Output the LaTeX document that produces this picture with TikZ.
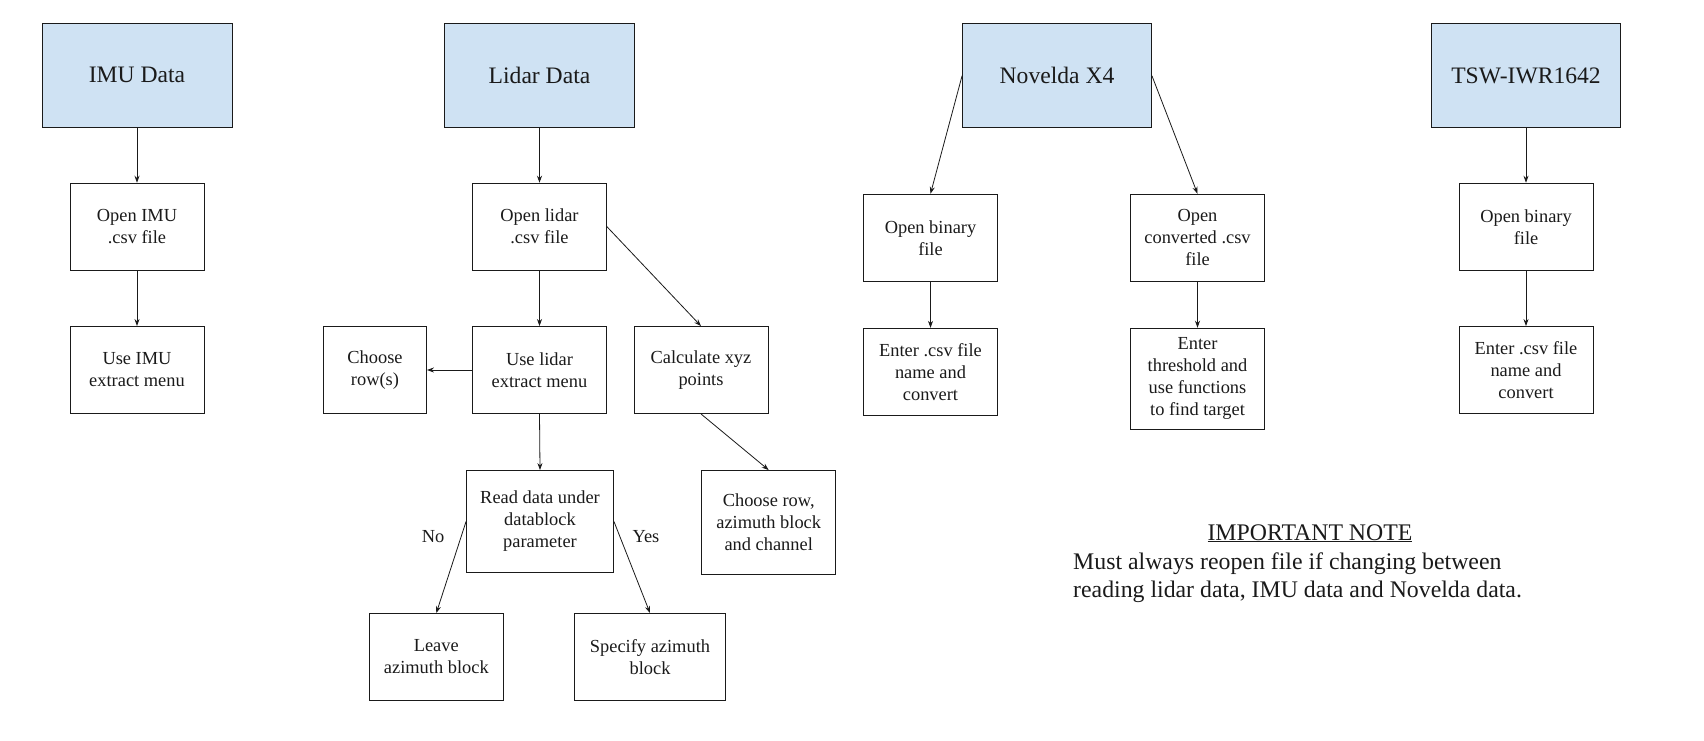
\documentclass[tikz,border=0pt]{standalone}
\usepackage{fontspec}
\setmainfont{Liberation Serif}
\usetikzlibrary{arrows.meta}
\definecolor{hdrblue}{HTML}{CFE2F3}
\definecolor{ink}{HTML}{1A1A1A}
\tikzset{
  hdr/.style={draw=ink, line width=0.9pt, fill=hdrblue, minimum width=190pt, minimum height=104pt,
    inner sep=0pt, font=\fontsize{23.6}{28}\selectfont, text=ink},
  stepbox/.style={draw=ink, line width=0.9pt, minimum width=134pt, minimum height=87pt,
    inner sep=0pt, align=center, font=\fontsize{18.4}{22}\selectfont, text=ink},
  lbl/.style={inner sep=0pt, font=\fontsize{18.4}{22}\selectfont, text=ink},
  conn/.style={draw=ink, line width=0.8pt, -{Stealth[length=7pt,width=5pt]}}
}
\begin{document}
\begin{tikzpicture}[x=1pt,y=-1pt]
\useasboundingbox (0,0) rectangle (1704,740);
% IMU column
\node[hdr] (imu) at (137,75) {IMU Data};
\node[stepbox] (openimu) at (137,226.7) {Open IMU\\.csv file};
\node[stepbox] (useimu) at (137,370) {Use IMU\\extract menu};
% Lidar column
\node[hdr] (lidar) at (539.5,75) {Lidar Data};
\node[stepbox] (openlidar) at (539.5,226.7) {Open lidar\\.csv file};
\node[stepbox] (uselidar) at (539.5,370) {Use lidar\\extract menu};
\node[stepbox, minimum width=103pt] (choose) at (375,370) {Choose\\row(s)};
\node[stepbox] (calc) at (701,370) {Calculate xyz\\points};
\node[stepbox, minimum width=147pt, minimum height=102pt] (read) at (540,521.5) {Read data under\\datablock\\parameter};
\node[stepbox, minimum height=104pt] (chooserow) at (768.7,522.5) {Choose row,\\azimuth block\\and channel};
\node[stepbox] (leave) at (436.3,657) {Leave\\azimuth block};
\node[stepbox, minimum width=151pt] (specify) at (650,657) {Specify azimuth\\block};
\node[lbl] (no) at (433,537) {No};
\node[lbl] (yes) at (646,537) {Yes};
% Novelda column
\node[hdr, minimum width=189pt] (nov) at (1057,75.8) {Novelda X4};
\node[stepbox] (openbin) at (930.5,237.7) {Open binary\\file};
\node[stepbox] (openconv) at (1197.5,237.7) {Open\\converted .csv\\file};
\node[stepbox] (enternov) at (930.5,371.8) {Enter .csv file\\name and\\convert};
\node[stepbox, minimum height=101pt] (thresh) at (1197.5,378.7) {Enter\\threshold and\\use functions\\to find target};
% TSW column
\node[hdr, minimum width=189pt] (tsw) at (1526,75.8) {TSW-IWR1642};
\node[stepbox] (opentsw) at (1526,226.7) {Open binary\\file};
\node[stepbox] (entertsw) at (1526,370) {Enter .csv file\\name and\\convert};
% Note
\node[lbl, font=\fontsize{23.8}{28}\selectfont, anchor=base] (notehead) at (1310,540) {\underline{IMPORTANT NOTE}};
\node[lbl, font=\fontsize{23.8}{28}\selectfont, anchor=north west, align=left] (notebody) at (1073,553) {Must always reopen file if changing between\\reading lidar data, IMU data and Novelda data.};
% connectors
\draw[conn] (imu.south) -- (openimu.north);
\draw[conn] (openimu.south) -- (useimu.north);
\draw[conn] (lidar.south) -- (openlidar.north);
\draw[conn] (openlidar.south) -- (uselidar.north);
\draw[conn] (openlidar.east) -- (calc.north);
\draw[conn] (uselidar.west) -- (choose.east);
\draw[conn] (uselidar.south) -- (read.north);
\draw[conn] (calc.south) -- (chooserow.north);
\draw[conn] (read.west) -- (leave.north);
\draw[conn] (read.east) -- (specify.north);
\draw[conn] (nov.west) -- (openbin.north);
\draw[conn] (nov.east) -- (openconv.north);
\draw[conn] (openbin.south) -- (enternov.north);
\draw[conn] (openconv.south) -- (thresh.north);
\draw[conn] (tsw.south) -- (opentsw.north);
\draw[conn] (opentsw.south) -- (entertsw.north);
\end{tikzpicture}
\end{document}
